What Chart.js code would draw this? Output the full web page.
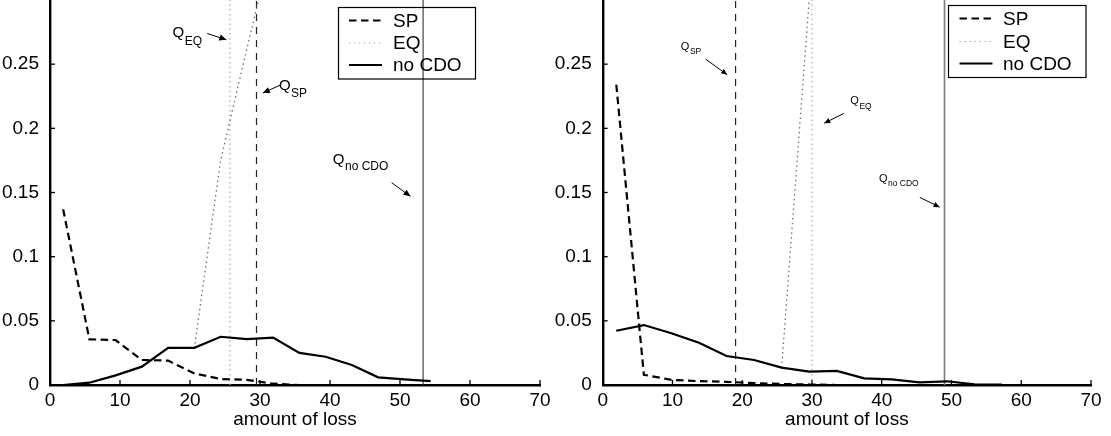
<!DOCTYPE html>
<html><head><meta charset="utf-8">
<script src="https://cdn.jsdelivr.net/npm/chart.js@4.4.1/dist/chart.umd.min.js"></script>
<style>
html,body{margin:0;padding:0;background:#fff;overflow:hidden;}
#wrap{position:relative;width:1111px;height:436px;}
.c{position:absolute;top:0;height:436px;}
#c1{left:0;width:555px;}
#c2{left:555px;width:556px;}
</style></head><body>
<div id="wrap"><div class="c" id="c1"><canvas id="left"></canvas></div><div class="c" id="c2"><canvas id="right"></canvas></div></div>
<script>
// ---- shared axes ----
const xTicks = [0, 10, 20, 30, 40, 50, 60, 70];
const yTicks = [0, 0.05, 0.1, 0.15, 0.2, 0.25];
const xMax = 70;
const yMax = 0.3;
const xTitle = 'amount of loss';
const seriesNames = ['SP', 'EQ', 'no CDO'];

// ---- left panel ----
const lossL   = [1.875, 5.625, 9.375, 13.125, 16.875, 20.625, 24.375, 28.125, 31.875, 35.625, 39.375, 43.125, 46.875, 50.625, 54.375];
const spL     = [0.137, 0.0356, 0.035, 0.0195, 0.019, 0.009, 0.0047, 0.004, 0.001, 0.0, null, null, null, null, null];
const eqL     = [0.0, 0.0018, 0.0075, 0.0143, 0.029, 0.029, 0.175, 0.262, 0.347, null, null, null, null, null, null];
const noCdoL  = [0.0, 0.0018, 0.0075, 0.0143, 0.029, 0.029, 0.0376, 0.0358, 0.0369, 0.025, 0.022, 0.0156, 0.006, 0.0044, 0.003];
const qL      = {SP: 29.5, EQ: 25.7, noCDO: 53.3};

// ---- right panel ----
const lossR   = [1.95, 5.9, 9.85, 13.8, 17.75, 21.7, 25.65, 29.6, 33.55, 37.5, 41.45, 45.4, 49.35, 53.3, 57.25];
const spR     = [0.234, 0.008, 0.004, 0.003, 0.0025, 0.0015, 0.0008, 0.0004, 0.0, null, null, null, null, null, null];
const eqR     = [0.0423, 0.0467, 0.0403, 0.033, 0.0226, 0.0195, 0.0135, 0.30, 0.65, null, null, null, null, null, null];
const noCdoR  = [0.0423, 0.0467, 0.0403, 0.033, 0.0226, 0.0195, 0.0135, 0.0104, 0.011, 0.0052, 0.0044, 0.002, 0.0029, 0.0005, 0.0003];
const qR      = {SP: 19.05, EQ: 30.0, noCDO: 49.0};

const F = "'Liberation Sans', Arial, Helvetica, sans-serif";

const style = {
  SP:    {color: '#000', width: 2.2, dash: [7.5, 4.5]},
  EQ:    {color: '#6e6e6e', width: 1.3, dash: [1.5, 3.3]},
  noCDO: {color: '#000', width: 2.2, dash: []}
};

function series(xs, ys) {
  const out = [];
  xs.forEach((x, i) => { if (ys[i] !== null && ys[i] !== undefined) out.push({x: x, y: ys[i]}); });
  return out;
}
function vline(q) { return [{x: q, y: 0}, {x: q, y: yMax}]; }
function lineDs(label, data, st, order) {
  return {label, data, borderColor: st.color, borderWidth: st.width, borderDash: st.dash,
          pointRadius: 0, tension: 0, fill: false, order: order, spanGaps: false};
}
function fmt(v) { return String(Math.round(v * 100) / 100); }

const decor = {
  id: 'decor',
  afterDraw(chart) {
    const ctx = chart.ctx, xs = chart.scales.x, ys = chart.scales.y;
    const d = chart.options.plugins.decor;
    ctx.save();
    // inward ticks
    ctx.strokeStyle = '#000'; ctx.lineWidth = 1.3; ctx.setLineDash([]);
    const y0 = ys.getPixelForValue(0), x0 = xs.getPixelForValue(0);
    xTicks.forEach(v => { const px = xs.getPixelForValue(v); ctx.beginPath(); ctx.moveTo(px, y0); ctx.lineTo(px, y0 - 5); ctx.stroke(); });
    yTicks.forEach(v => { const py = ys.getPixelForValue(v); ctx.beginPath(); ctx.moveTo(x0, py); ctx.lineTo(x0 + 5, py); ctx.stroke(); });
    // annotations
    d.notes.forEach(n => {
      const tx = xs.getPixelForValue(n.tx), ty = ys.getPixelForValue(n.ty);
      ctx.fillStyle = '#000'; ctx.textBaseline = 'alphabetic'; ctx.textAlign = 'left';
      ctx.font = n.qs + 'px ' + F;
      ctx.fillText('Q', tx, ty);
      const qw = ctx.measureText('Q').width;
      ctx.font = n.ss + 'px ' + F;
      ctx.fillText(n.sub, tx + qw + 0.5, ty + n.dy);
      const ax1 = xs.getPixelForValue(n.a[0]), ay1 = ys.getPixelForValue(n.a[1]);
      const ax2 = xs.getPixelForValue(n.a[2]), ay2 = ys.getPixelForValue(n.a[3]);
      ctx.strokeStyle = '#000'; ctx.lineWidth = 1;
      ctx.beginPath(); ctx.moveTo(ax1, ay1); ctx.lineTo(ax2, ay2); ctx.stroke();
      const ang = Math.atan2(ay2 - ay1, ax2 - ax1), L = n.head, W = n.head * 0.45;
      ctx.beginPath();
      ctx.moveTo(ax2, ay2);
      ctx.lineTo(ax2 - L * Math.cos(ang) + W * Math.sin(ang), ay2 - L * Math.sin(ang) - W * Math.cos(ang));
      ctx.lineTo(ax2 - L * Math.cos(ang) - W * Math.sin(ang), ay2 - L * Math.sin(ang) + W * Math.cos(ang));
      ctx.closePath(); ctx.fill();
    });
    // legend
    const lg = d.legend;
    ctx.strokeStyle = '#000'; ctx.lineWidth = 1.2; ctx.setLineDash([]);
    ctx.strokeRect(lg.x, lg.y, lg.w, lg.h);
    const keys = ['SP', 'EQ', 'noCDO'];
    keys.forEach((k, i) => {
      const st = style[k];
      const ry = lg.rows[i];
      ctx.strokeStyle = (k === 'EQ') ? '#9a9a9a' : st.color; ctx.lineWidth = (k === 'EQ') ? 1.2 : 2.2;
      ctx.setLineDash(k === 'EQ' ? [1.2, 3.8] : st.dash);
      ctx.beginPath(); ctx.moveTo(lg.lx1, ry); ctx.lineTo(lg.lx2, ry); ctx.stroke();
      ctx.setLineDash([]);
      ctx.fillStyle = '#000'; ctx.font = '19px ' + F; ctx.textBaseline = 'middle'; ctx.textAlign = 'left';
      ctx.fillText(seriesNames[i], lg.tx, ry + 1);
    });
    ctx.restore();
  }
};

function build(id, p) {
  const ds = [
    lineDs('no CDO', series(p.loss, p.noCdo), style.noCDO, 1),
    lineDs('SP', series(p.loss, p.sp), style.SP, 2),
    lineDs('EQ', series(p.loss, p.eq), style.EQ, 3),
    {label: 'Q SP', data: vline(p.q.SP), borderColor: '#222', borderWidth: 1.2, borderDash: [7, 6], pointRadius: 0, order: 4},
    {label: 'Q EQ', data: vline(p.q.EQ), borderColor: '#a8a8a8', borderWidth: 1.2, borderDash: [1.5, 3.3], pointRadius: 0, order: 5},
    {label: 'Q no CDO', data: vline(p.q.noCDO), borderColor: p.qNoColor, borderWidth: p.qNoWidth, borderDash: [], pointRadius: 0, order: 6}
  ];
  return new Chart(document.getElementById(id), {
    type: 'line',
    data: {datasets: ds},
    options: {
      responsive: true, maintainAspectRatio: false, animation: false, events: [],
      layout: {padding: {left: 0, right: p.padRight, top: 0, bottom: 0}},
      plugins: {
        legend: {display: false}, tooltip: {enabled: false},
        decor: {notes: p.notes, legend: p.legend}
      },
      scales: {
        x: {
          type: 'linear', min: 0, max: xMax,
          grid: {display: false},
          border: {display: true, color: '#000', width: 2.4},
          ticks: {color: '#000', font: {family: F, size: 19}, padding: -4, maxRotation: 0, autoSkip: false, callback: v => String(v)},
          afterBuildTicks: s => { s.ticks = xTicks.map(v => ({value: v})); },
          afterFit: s => { s.height = 51; s.paddingLeft = 0; s.paddingRight = 0; },
          title: {display: true, text: xTitle, color: '#000', font: {family: F, size: 19}, padding: {top: 0, bottom: 5}}
        },
        y: {
          type: 'linear', min: 0, max: yMax,
          grid: {display: false},
          border: {display: true, color: '#000', width: 2.4},
          ticks: {color: '#000', font: {family: F, size: 19}, padding: 3, autoSkip: false, callback: v => fmt(v)},
          afterBuildTicks: s => { s.ticks = yTicks.map(v => ({value: v})); },
          afterFit: s => { s.width = p.yWidth; s.paddingTop = 0; s.paddingBottom = 0; }
        }
      }
    },
    plugins: [decor]
  });
}

build('left', {
  loss: lossL, sp: spL, eq: eqL, noCdo: noCdoL, q: qL,
  qNoColor: '#333', qNoWidth: 1.1,
  yWidth: 50, padRight: 15,
  notes: [
    {sub: 'EQ', tx: 17.5, ty: 0.2715, qs: 15, ss: 12, dy: 8, a: [22.47, 0.2739, 25.2, 0.2690], head: 7},
    {sub: 'SP', tx: 32.7, ty: 0.2300, qs: 15, ss: 12, dy: 7, a: [32.86, 0.2336, 30.4, 0.2276], head: 7},
    {sub: 'no CDO', tx: 40.4, ty: 0.1720, qs: 15, ss: 12, dy: 6, a: [48.81, 0.1576, 51.5, 0.1470], head: 7}
  ],
  legend: {x: 338.5, y: 7.5, w: 137, h: 71.5, lx1: 349, lx2: 382, tx: 393, rows: [20.5, 43, 65]}
});

build('right', {
  loss: lossR, sp: spR, eq: eqR, noCdo: noCdoR, q: qR,
  qNoColor: '#808080', qNoWidth: 1.7,
  yWidth: 47.7, padRight: 20,
  notes: [
    {sub: 'SP', tx: 11.2, ty: 0.2614, qs: 11, ss: 8.5, dy: 4, a: [14.76, 0.2539, 17.85, 0.2418], head: 6},
    {sub: 'EQ', tx: 35.5, ty: 0.2188, qs: 11, ss: 8.5, dy: 5, a: [34.57, 0.2116, 31.75, 0.2040], head: 6},
    {sub: 'no CDO', tx: 39.6, ty: 0.1583, qs: 11, ss: 8.5, dy: 4.5, a: [45.46, 0.1462, 48.3, 0.1386], head: 6}
  ],
  legend: {x: 393.5, y: 5.5, w: 137.5, h: 72, lx1: 404.5, lx2: 437.5, tx: 448, rows: [18.5, 41.5, 63.5]}
});
</script>
</body></html>
